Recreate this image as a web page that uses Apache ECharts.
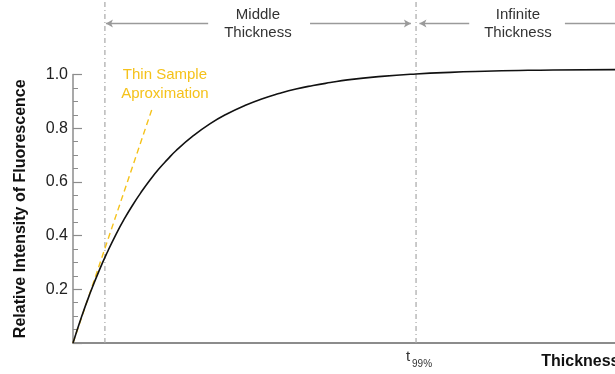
<!DOCTYPE html>
<html>
<head>
<meta charset="utf-8">
<script src="https://cdn.jsdelivr.net/npm/echarts@6/dist/echarts.min.js"></script>
<style>
html,body{margin:0;padding:0;background:#fff;}
#chart{width:615px;height:374px;}
</style>
</head>
<body>
<div id="chart"></div>
<script>
// ---- data ----
const thicknessX = [0, 0.25, 0.5, 0.75, 1, 1.25, 1.5, 1.75, 2, 2.25, 2.5, 2.75, 3, 3.5, 4, 4.5, 5, 5.5, 6, 6.5, 7, 7.5, 8, 9, 10, 11, 12, 13, 14, 15.8];
const intensity  = [0, 0.098, 0.186, 0.266, 0.338, 0.404, 0.463, 0.516, 0.564, 0.608, 0.648, 0.683, 0.716, 0.771, 0.817, 0.854, 0.884, 0.909, 0.929, 0.946, 0.959, 0.970, 0.980, 0.993, 1.002, 1.008, 1.012, 1.015, 1.017, 1.018];
const thinX = [0, 2.32];
const thinY = [0, 0.878];
const boundaryX = [0.93, 10.0];          // thin limit, t99%
const boundaryY = [0, 1.28];
const yTicks = [0.2, 0.4, 0.6, 0.8, 1.0];
const zoneY = 1.19;
const zoneSegments = [[0.96, 3.94, 'left'], [6.91, 9.85, 'right'], [10.1, 11.55, 'left'], [14.34, 15.8, 'none']];
const zoneLabels = [['Middle\nThickness', 5.39], ['Infinite\nThickness', 12.97]];
const thinLabel = ['Thin Sample\nAproximation', 2.68, 0.965];
const t99Label = ['t', '99%'];
const xTitle = 'Thickness';
const yTitle = 'Relative Intensity of Fluorescence';

const gold = '#F5C21B';
const grey = '#8c8c8c';

const chart = echarts.init(document.getElementById('chart'));

const series = [];
series.push({
  type: 'line', name: 'curve', clip: false, smooth: true,
  showSymbol: false, silent: true, z: 5,
  lineStyle: {color: '#111', width: 1.6},
  data: thicknessX.map((x, i) => [x, intensity[i]])
});
series.push({
  type: 'line', name: 'thin', clip: false, showSymbol: false, silent: true, z: 4,
  lineStyle: {color: gold, width: 1.4, type: [6, 4]},
  data: thinX.map((x, i) => [x, thinY[i]])
});
boundaryX.forEach(bx => {
  series.push({
    type: 'line', clip: false, showSymbol: false, silent: true, z: 3,
    lineStyle: {color: '#a8a8a8', width: 1.2, type: [5, 3, 1, 3]},
    data: boundaryY.map(y => [bx, y])
  });
});
zoneSegments.forEach(seg => {
  const [a, b, dir] = seg;
  const mk = (x, isHead) => isHead
    ? {value: [x, zoneY], symbol: 'arrow', symbolSize: [6, 7], symbolRotate: dir === 'left' ? 90 : -90}
    : {value: [x, zoneY], symbol: 'none'};
  series.push({
    type: 'line', clip: false, silent: true, showSymbol: true, z: 3,
    lineStyle: {color: '#9a9a9a', width: 1.5},
    itemStyle: {color: '#9a9a9a'},
    data: [mk(a, dir === 'left'), mk(b, dir === 'right')]
  });
});

chart.setOption({
  animation: false,
  grid: {left: 73, right: 0, top: 74.5, bottom: 31, containLabel: false},
  xAxis: {
    type: 'value', min: 0, max: 15.8,
    axisLine: {show: true, lineStyle: {color: grey, width: 2}},
    axisTick: {show: false}, axisLabel: {show: false}, splitLine: {show: false}
  },
  yAxis: {
    type: 'value', min: 0, max: 1.0, interval: 0.2,
    name: yTitle, nameLocation: 'middle', nameRotate: 90, nameGap: 44,
    nameTextStyle: {fontFamily: 'Liberation Sans, Arial, sans-serif', fontWeight: 'bold', fontSize: 16, color: '#111'},
    axisLine: {show: true, lineStyle: {color: grey, width: 1.5}},
    axisTick: {show: true, inside: true, length: 9, lineStyle: {color: grey, width: 1.2}},
    minorTick: {show: true, splitNumber: 4, length: 5, lineStyle: {color: grey, width: 1}},
    axisLabel: {
      margin: 5, fontSize: 16, color: '#222', fontFamily: 'Liberation Sans, Arial, sans-serif',
      formatter: v => yTicks.some(t => Math.abs(t - v) < 1e-9) ? v.toFixed(1) : ''
    },
    splitLine: {show: false}
  },
  series: series
});

// annotations positioned through the chart's own scales
const px = (x, y) => chart.convertToPixel({gridIndex: 0}, [x, y]);
const font = 'Liberation Sans, Arial, sans-serif';
const graphics = [];
zoneLabels.forEach(([txt, x]) => {
  const p = px(x, zoneY);
  graphics.push({type: 'text', x: p[0], y: p[1], z: 10,
    style: {text: txt, fill: '#333', font: '15px ' + font, align: 'center', verticalAlign: 'middle', lineHeight: 18}});
});
{
  const p = px(thinLabel[1], thinLabel[2]);
  graphics.push({type: 'text', x: p[0], y: p[1], z: 10,
    style: {text: thinLabel[0], fill: gold, font: '15px ' + font, align: 'center', verticalAlign: 'middle', lineHeight: 19}});
}
{
  const p = px(boundaryX[1], 0);
  graphics.push({type: 'text', x: p[0] - 10, y: p[1] + 14, z: 10,
    style: {text: t99Label[0], fill: '#333', font: '15px ' + font, align: 'left', verticalAlign: 'middle'}});
  graphics.push({type: 'text', x: p[0] - 4, y: p[1] + 21, z: 10,
    style: {text: t99Label[1], fill: '#333', font: '10px ' + font, align: 'left', verticalAlign: 'middle'}});
}
{
  const p = px(13.65, 0);
  graphics.push({type: 'text', x: p[0], y: p[1] + 19, z: 10,
    style: {text: xTitle, fill: '#111', font: 'bold 16px ' + font, align: 'left', verticalAlign: 'middle'}});
}
chart.setOption({graphic: graphics});
</script>
</body>
</html>
